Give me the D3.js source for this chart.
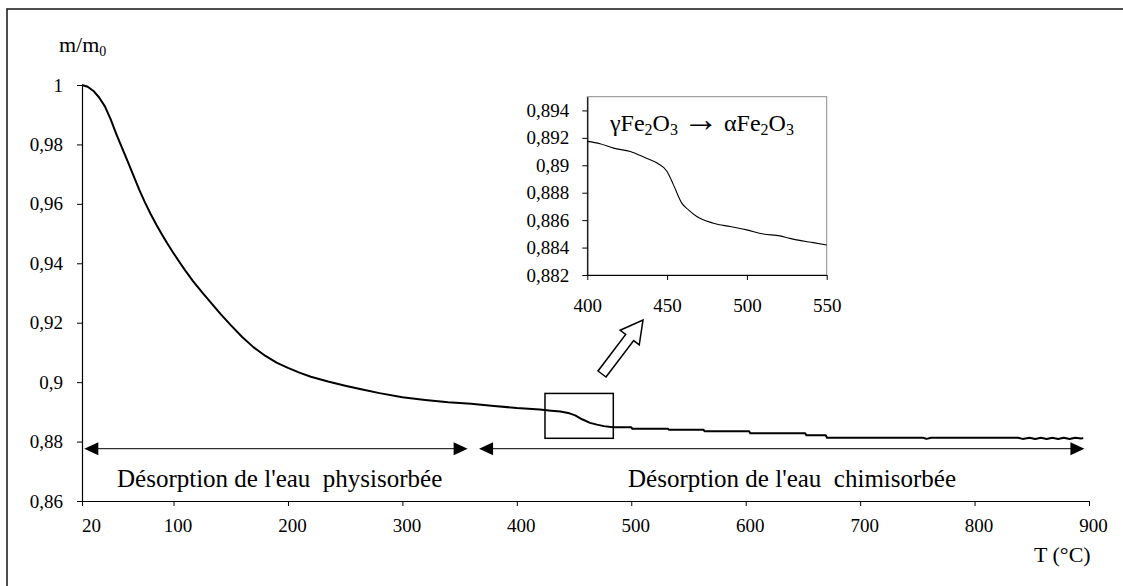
<!DOCTYPE html>
<html>
<head>
<meta charset="utf-8">
<script src="https://cdn.jsdelivr.net/npm/d3@7"></script>
<style>
  html, body { margin: 0; padding: 0; background: #fff; }
  text { font-family: "Liberation Serif", "Times New Roman", serif; fill: #000; }
</style>
</head>
<body>
<svg id="chart" width="1123" height="586"></svg>
<script>
// ---------- data ----------
const mainT = [20, 25, 30, 35, 40, 45, 50, 55, 60, 65, 70, 75, 80, 85, 90, 95, 100, 105, 110, 117, 125, 133, 141, 150, 160, 170, 180, 190, 200, 210, 220, 235, 250, 265, 280, 300, 320, 340, 360, 380, 400, 420, 430, 438, 446, 451, 457, 464, 470, 476, 484, 500, 501, 532, 533, 563, 564, 603, 604, 652, 653, 670, 671, 755, 758, 762, 838, 842, 848, 853, 858, 863, 868, 873, 878, 883, 888, 893, 895];
const mainM = [1.0, 0.9994, 0.9980, 0.9958, 0.9928, 0.9885, 0.9835, 0.9788, 0.9742, 0.9695, 0.9648, 0.9605, 0.9566, 0.9530, 0.9496, 0.9464, 0.9434, 0.9405, 0.9377, 0.9340, 0.9302, 0.9266, 0.9230, 0.9192, 0.9152, 0.9117, 0.9089, 0.9066, 0.9048, 0.9032, 0.9018, 0.9002, 0.8988, 0.8975, 0.8963, 0.8949, 0.8940, 0.8932, 0.8927, 0.8920, 0.8913, 0.8908, 0.8904, 0.8901, 0.8895, 0.8888, 0.8875, 0.8863, 0.8857, 0.8852, 0.8848, 0.8848, 0.8843, 0.8843, 0.8840, 0.8840, 0.8835, 0.8835, 0.8828, 0.8828, 0.8821, 0.8821, 0.8813, 0.8813, 0.8809, 0.8813, 0.8813, 0.8809, 0.8813, 0.8809, 0.8813, 0.8809, 0.8813, 0.8809, 0.8813, 0.8809, 0.8813, 0.8810, 0.8812];

const insetT = [400, 408, 416.5, 427, 435.3, 443.7, 450, 454, 459.2, 463.4, 468.6, 479, 489.4, 499.9, 510.3, 520.7, 526, 531.2, 541.6, 551];
const insetM = [0.89174, 0.89157, 0.89125, 0.8910, 0.8906, 0.89016, 0.88955, 0.88857, 0.88724, 0.88675, 0.88626, 0.88578, 0.88553, 0.88529, 0.88499, 0.88485, 0.88470, 0.88456, 0.88436, 0.88419];

const mainXTicks = [20, 100, 200, 300, 400, 500, 600, 700, 800, 900];
const mainYTicks = [0.86, 0.88, 0.9, 0.92, 0.94, 0.96, 0.98, 1];
const insetXTicks = [400, 450, 500, 550];
const insetYTicks = [0.882, 0.884, 0.886, 0.888, 0.89, 0.892, 0.894];

const rangeLabels = ["Désorption de l'eau  physisorbée", "Désorption de l'eau  chimisorbée"];
const rangeFrom = [22, 367];
const rangeTo = [357, 896];
const rangeLevel = 0.8776;
const zoomBoxT = [424.6, 484.3];
const zoomBoxM = [0.8811, 0.8962];

// ---------- drawing ----------
const svg = d3.select("#chart");
svg.append("rect").attr("width", 1123).attr("height", 586).attr("fill", "#fff");
// outer frame (only top/left visible)
svg.append("rect").attr("x", 7).attr("y", 9).attr("width", 1300).attr("height", 800)
  .attr("fill", "none").attr("stroke", "#222").attr("stroke-width", 1.6);

const fmt = v => String(+v.toFixed(3)).replace(".", ",");

const x = d3.scaleLinear().domain([20, 900]).range([82, 1089]);
const y = d3.scaleLinear().domain([0.86, 1]).range([501, 85]);

const gx = svg.append("g").attr("transform", `translate(0,${y(0.86)})`)
  .call(d3.axisBottom(x).tickValues(mainXTicks).tickFormat(d3.format("d")).tickSize(5).tickPadding(13).tickSizeOuter(0));
const gy = svg.append("g").attr("transform", `translate(${x(20)},0)`)
  .call(d3.axisLeft(y).tickValues(mainYTicks).tickFormat(fmt).tickSize(5).tickPadding(14).tickSizeOuter(0));
[gx, gy].forEach(g => {
  g.selectAll("path.domain").attr("stroke", "#000").attr("stroke-width", 1.2);
  g.selectAll(".tick line").attr("stroke", "#000");
  g.selectAll(".tick text").attr("font-family", "Liberation Serif").attr("font-size", 19).attr("fill", "#000");
});
gx.selectAll(".tick text").attr("dx", d => d === 20 ? 9 : 4);

// axis titles
const yl = svg.append("text").attr("x", 59).attr("y", 52).attr("font-size", 22);
yl.append("tspan").text("m/m");
yl.append("tspan").text("0").attr("font-size", 14).attr("dy", 4);
svg.append("text").attr("x", 1034).attr("y", 562).attr("font-size", 22).text("T (°C)");

// main curve
const mainData = mainT.map((t, i) => [t, mainM[i]]);
svg.append("path").datum(mainData)
  .attr("fill", "none").attr("stroke", "#000").attr("stroke-width", 2).attr("stroke-linejoin", "round")
  .attr("d", d3.line().x(d => x(d[0])).y(d => y(d[1])));

// range arrows
function arrowHead(tipX, tipY, dir) {
  const L = 14, H = 6.5;
  return `M${tipX},${tipY} L${tipX - dir * L},${tipY - H} L${tipX - dir * L},${tipY + H} Z`;
}
rangeFrom.forEach((f, i) => {
  const yy = y(rangeLevel), x1 = x(f), x2 = x(rangeTo[i]);
  svg.append("line").attr("x1", x1 + 10).attr("x2", x2 - 10).attr("y1", yy).attr("y2", yy)
    .attr("stroke", "#000").attr("stroke-width", 1);
  svg.append("path").attr("d", arrowHead(x1, yy, -1)).attr("fill", "#000");
  svg.append("path").attr("d", arrowHead(x2, yy, 1)).attr("fill", "#000");
});
svg.append("text").attr("x", 117).attr("y", 487).attr("font-size", 25).style("white-space", "pre").text(rangeLabels[0]);
svg.append("text").attr("x", 628).attr("y", 487).attr("font-size", 25).style("white-space", "pre").text(rangeLabels[1]);

// zoom box
svg.append("rect").attr("x", x(zoomBoxT[0])).attr("y", y(zoomBoxM[1]))
  .attr("width", x(zoomBoxT[1]) - x(zoomBoxT[0])).attr("height", y(zoomBoxM[0]) - y(zoomBoxM[1]))
  .attr("fill", "none").attr("stroke", "#000").attr("stroke-width", 1.5);

// hollow block arrow
(function () {
  const tail = [602, 374], tip = [643, 320];
  const dx = tip[0] - tail[0], dy = tip[1] - tail[1], len = Math.hypot(dx, dy);
  const ux = dx / len, uy = dy / len, nx = -uy, ny = ux;
  const headL = 22, headW = 12, shaftW = 5;
  const bx = tip[0] - ux * headL, by = tip[1] - uy * headL;
  const p = [
    [tail[0] + nx * shaftW, tail[1] + ny * shaftW],
    [bx + nx * shaftW, by + ny * shaftW],
    [bx + nx * headW, by + ny * headW],
    tip,
    [bx - nx * headW, by - ny * headW],
    [bx - nx * shaftW, by - ny * shaftW],
    [tail[0] - nx * shaftW, tail[1] - ny * shaftW]
  ];
  svg.append("path").attr("d", "M" + p.map(q => q.join(",")).join("L") + "Z")
    .attr("fill", "#fff").attr("stroke", "#000").attr("stroke-width", 1.5).attr("stroke-linejoin", "miter");
})();

// ---------- inset ----------
const xi = d3.scaleLinear().domain([400, 550]).range([587.3, 826.7]);
const yi = d3.scaleLinear().domain([0.882, 0.895]).range([275, 96.7]);
svg.append("rect").attr("x", xi(400)).attr("y", yi(0.895)).attr("width", xi(550) - xi(400)).attr("height", yi(0.882) - yi(0.895))
  .attr("fill", "#fff").attr("stroke", "#8c8c8c").attr("stroke-width", 1);
const gxi = svg.append("g").attr("transform", `translate(0,${yi(0.882)})`)
  .call(d3.axisBottom(xi).tickValues(insetXTicks).tickFormat(d3.format("d")).tickSize(5).tickPadding(19).tickSizeOuter(0));
const gyi = svg.append("g").attr("transform", `translate(${xi(400)},0)`)
  .call(d3.axisLeft(yi).tickValues(insetYTicks).tickFormat(fmt).tickSize(5).tickPadding(13).tickSizeOuter(0));
[gxi, gyi].forEach(g => {
  g.selectAll("path.domain").attr("stroke", "#000").attr("stroke-width", 1.2);
  g.selectAll(".tick line").attr("stroke", "#000");
  g.selectAll(".tick text").attr("font-family", "Liberation Serif").attr("font-size", 19).attr("fill", "#000");
});
const insetData = insetT.map((t, i) => [t, insetM[i]]);
svg.append("path").datum(insetData)
  .attr("fill", "none").attr("stroke", "#000").attr("stroke-width", 1.1)
  .attr("d", d3.line().x(d => xi(Math.min(d[0], 550))).y(d => yi(d[1])).curve(d3.curveMonotoneX));

const title = svg.append("text").attr("x", 610).attr("y", 131).attr("font-size", 24);
title.append("tspan").text("γFe");
title.append("tspan").text("2").attr("font-size", 16).attr("dy", 4);
title.append("tspan").text("O").attr("dy", -4);
title.append("tspan").text("3").attr("font-size", 16).attr("dy", 4);
title.append("tspan").text("→").attr("dy", -4).attr("dx", 5).attr("font-size", 36);
title.append("tspan").text("αFe").attr("dx", 5);
title.append("tspan").text("2").attr("font-size", 16).attr("dy", 4);
title.append("tspan").text("O").attr("dy", -4);
title.append("tspan").text("3").attr("font-size", 16).attr("dy", 4);
</script>
</body>
</html>
